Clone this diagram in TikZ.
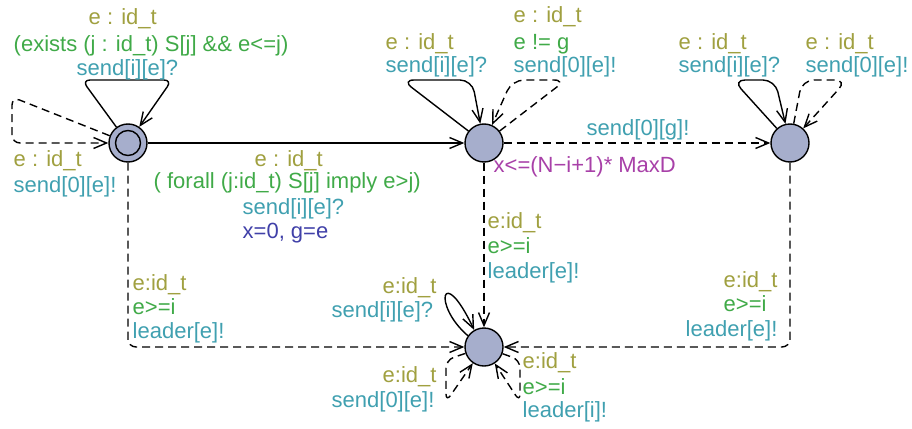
\documentclass[tikz,border=0pt]{standalone}
\usepackage{fontspec}
\setmainfont{Liberation Sans}
\usetikzlibrary{arrows.meta}
\definecolor{selc}{RGB}{160,160,64}
\definecolor{grdc}{RGB}{64,170,72}
\definecolor{sync}{RGB}{64,160,176}
\definecolor{updc}{RGB}{64,64,168}
\definecolor{invc}{RGB}{168,64,168}
\definecolor{locfill}{RGB}{166,174,204}
\begin{document}
\begin{tikzpicture}[x=1pt,y=-1pt,line width=1.4pt,
  >={Straight Barb[length=13pt,width=11pt]},
  loc/.style={circle,draw,fill=locfill,minimum size=38pt,inner sep=0pt},
  lbl/.style={anchor=base west,inner sep=0pt,font=\fontsize{22}{25}\selectfont},
  sel/.style={lbl,text=selc},
  grd/.style={lbl,text=grdc},
  syn/.style={lbl,text=sync},
  upd/.style={lbl,text=updc},
  inv/.style={lbl,text=invc},
  dsh/.style={dash pattern=on 8pt off 5pt},
  rc/.style={rounded corners=8pt}]
\useasboundingbox (0,0) rectangle (912,428);
% locations
\node[loc] (A) at (128,143) {};
\node[circle,draw,minimum size=25pt,inner sep=0pt] (Ai) at (A) {};
\node[loc] (B) at (484,143) {};
\node[loc] (C) at (790,143) {};
\node[loc] (D) at (484,347) {};
% main edges
\draw[->] (A) -- (B);
\draw[->,dsh] (B) -- (C);
\draw[->,dsh] (B) -- (D);
\draw[->,dsh,rc] (C) |- (D);
\draw[->,dsh,rc] (A) |- (D);
% self loops
\draw[->,rc] (A) -- (82,80) -- (172,80) -- (A);
\draw[->,dsh,rc] (A) -- (12,97) -- (12,143) -- (A);
\draw[->,rounded corners=12pt] (B) -- (402,80) -- (472,80) -- (B);
\draw[->,dsh,rounded corners=12pt] (B) -- (566,80) -- (512,80) -- (B);
\draw[->,rounded corners=12pt] (C) -- (733,80) -- (775,80) -- (C);
\draw[->,dsh,rounded corners=12pt] (C) -- (802,80) -- (847,80) -- (C);
\draw[->] (D.145) .. controls (432,305) and (442,262) .. (D.120);
\draw[->,dsh,rc] (D) -- (446,360) -- (446,402) -- (D);
\draw[->,dsh,rc] (D) -- (520,360) -- (520,402) -- (D);
% labels: A loops
\node[sel] (l1) at (88,25) {e : id\_t};
\node[grd] (l2) at (13,52) {(exists (j : id\_t) S[j] \&\& e<=j)};
\node[syn] (l3) at (76,75) {send[i][e]?};
\node[sel] (l4) at (13,166) {e : id\_t};
\node[syn] (l5) at (13,192) {send[0][e]!};
% A -> B
\node[sel] (l6) at (254,166) {e : id\_t};
\node[grd] (l7) at (153,188) {( forall (j:id\_t) S[j] imply e>j)};
\node[syn] (l8) at (242,214) {send[i][e]?};
\node[upd] (l9) at (242,238) {x=0, g=e};
% B loops
\node[sel] (l10) at (385,50) {e : id\_t};
\node[syn] (l11) at (385,73) {send[i][e]?};
\node[sel] (l12) at (513,23) {e : id\_t};
\node[grd] (l13) at (513,50) {e != g};
\node[syn] (l14) at (513,73) {send[0][e]!};
% B -> C and invariant
\node[syn] (l15) at (586,135) {send[0][g]!};
\node[inv] (l16) at (493,172) {x<=(N−i+1)* MaxD};
% C loops
\node[sel] (l17) at (678,50) {e : id\_t};
\node[syn] (l18) at (678,73) {send[i][e]?};
\node[sel] (l19) at (805,50) {e : id\_t};
\node[syn] (l20) at (805,73) {send[0][e]!};
% B -> D
\node[sel] (l21) at (487,228) {e:id\_t};
\node[grd] (l22) at (487,253) {e>=i};
\node[syn] (l23) at (487,278) {leader[e]!};
% C -> D
\node[sel] (l24) at (723,287) {e:id\_t};
\node[grd] (l25) at (723,311) {e>=i};
\node[syn] (l26) at (685,336) {leader[e]!};
% A -> D
\node[sel] (l27) at (132,290) {e:id\_t};
\node[grd] (l28) at (132,314) {e>=i};
\node[syn] (l29) at (132,338) {leader[e]!};
% D loops
\node[sel] (l30) at (382,293) {e:id\_t};
\node[syn] (l31) at (331,317) {send[i][e]?};
\node[sel] (l32) at (382,382) {e:id\_t};
\node[syn] (l33) at (331,407) {send[0][e]!};
\node[sel] (l34) at (522,368) {e:id\_t};
\node[grd] (l35) at (522,394) {e>=i};
\node[syn] (l36) at (522,417) {leader[i]!};
\end{tikzpicture}
\end{document}
